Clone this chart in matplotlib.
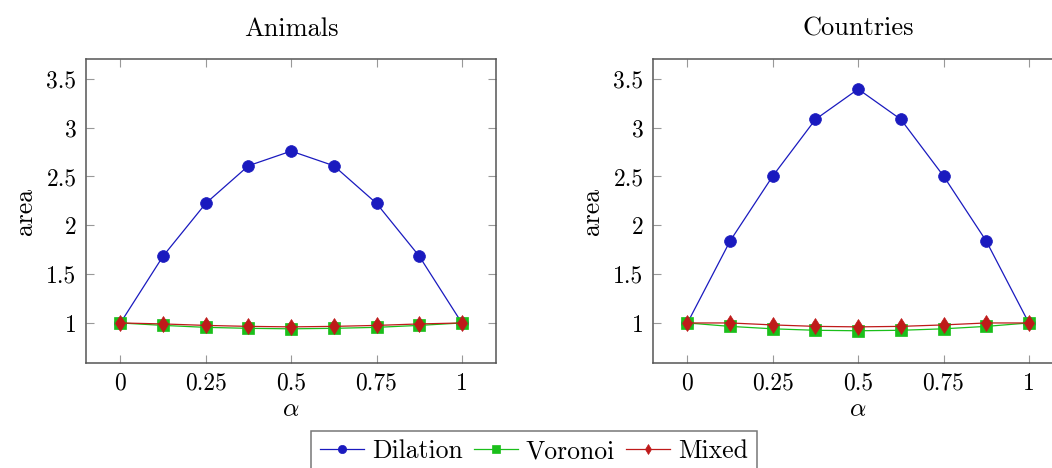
import numpy as np
import matplotlib
matplotlib.use("Agg")
import matplotlib.pyplot as plt

plt.rcParams['font.family'] = ['cmr10', 'DejaVu Serif']
plt.rcParams['mathtext.fontset'] = 'cm'
plt.rcParams['axes.formatter.use_mathtext'] = True

# data
alpha = [0, 0.125, 0.25, 0.375, 0.5, 0.625, 0.75, 0.875, 1]

animals_dilation = [1.0, 1.685, 2.225, 2.61, 2.76, 2.61, 2.225, 1.685, 1.0]
animals_voronoi = [1.0, 0.975, 0.955, 0.945, 0.94, 0.945, 0.955, 0.975, 1.0]
animals_mixed = [1.0, 0.99, 0.975, 0.965, 0.96, 0.965, 0.975, 0.99, 1.0]

countries_dilation = [1.0, 1.84, 2.505, 3.085, 3.395, 3.085, 2.505, 1.84, 1.0]
countries_voronoi = [1.0, 0.965, 0.94, 0.925, 0.92, 0.925, 0.94, 0.965, 1.0]
countries_mixed = [1.0, 1.0, 0.98, 0.965, 0.96, 0.965, 0.98, 1.0, 1.0]

titles = ["Animals", "Countries"]
series_names = ["Dilation", "Voronoi", "Mixed"]
xticks = [0, 0.25, 0.5, 0.75, 1]
xticklabels = ["0", "0.25", "0.5", "0.75", "1"]
yticks = [1, 1.5, 2, 2.5, 3, 3.5]
yticklabels = ["1", "1.5", "2", "2.5", "3", "3.5"]

colors = [(0.1, 0.1, 0.75), (0.1, 0.75, 0.1), (0.75, 0.1, 0.1)]
markers = ['o', 's', 'd']
msizes = [8.5, 8.0, 7.8]

W, H = 1052, 468
fig = plt.figure(figsize=(W / 100, H / 100), dpi=100)

panels = [
    (titles[0], [animals_dilation, animals_voronoi, animals_mixed], 86.3),
    (titles[1], [countries_dilation, countries_voronoi, countries_mixed], 653.3),
]
ax_w, ax_top, ax_bot = 409.7, 59.3, 363.0

handles = []
for title, series, left in panels:
    ax = fig.add_axes([left / W, 1 - ax_bot / H, ax_w / W, (ax_bot - ax_top) / H])
    handles = []
    for name, vals, c, m, ms in zip(series_names, series, colors, markers, msizes):
        h, = ax.plot(alpha, vals, color=c, marker=m, markersize=ms, linewidth=0.9,
                     markeredgewidth=0.5, label=name)
        handles.append(h)
    ax.set_xlim(-0.1, 1.1)
    ax.set_ylim(0.59, 3.70)
    ax.set_xticks(xticks)
    ax.set_xticklabels(xticklabels)
    ax.set_yticks(yticks)
    ax.set_yticklabels(yticklabels)
    ax.tick_params(direction='in', length=6, width=0.8, color='#999999',
                   top=True, right=True, labelsize=17, pad=7)
    for sp in ax.spines.values():
        sp.set_color('#555555')
        sp.set_linewidth(1.1)
    ax.set_title(title, fontsize=19, pad=17)
    ax.set_xlabel(r'$\alpha$', fontsize=18.5, labelpad=2)
    ax.set_ylabel('area', fontsize=18.5, labelpad=7)

leg = fig.legend(handles, series_names, loc='upper center', ncol=3,
                 bbox_to_anchor=(534 / W, 1 - 430.7 / H), fontsize=18.5,
                 frameon=True, fancybox=False, edgecolor='#555555',
                 handlelength=1.7, handletextpad=0.3, columnspacing=0.45,
                 borderpad=0.35, borderaxespad=0, markerscale=0.7)
leg.get_frame().set_linewidth(1.1)

fig.savefig('out.png', dpi=100)
